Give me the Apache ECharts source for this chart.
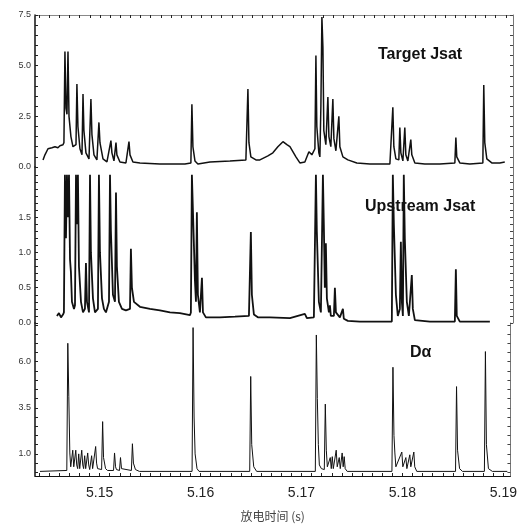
<!DOCTYPE html>
<html>
<head>
<meta charset="utf-8">
<script src="https://cdn.jsdelivr.net/npm/echarts@6/dist/echarts.min.js"></script>
<style>
  html, body { margin: 0; background: #fff; }
  #main { width: 520px; height: 524px; }
</style>
</head>
<body>
<div id="main"></div>
<script>
// time window (s) and tick labels
var tMin = 5.1436, tMax = 5.1907;
var timeLabels = [5.15, 5.16, 5.17, 5.18, 5.19];
var targetLabels = [0, 2.5, 5.0, 7.5];
var upstreamLabels = [0, 0.5, 1.0, 1.5];
var dalphaLabels = [1.0, 3.5, 6.0];

// Target Jsat  [t, value]
var targetJsat = [
  [5.14439,0.35],[5.14458,0.6],[5.14488,0.9],[5.14527,0.95],[5.14557,1.0],[5.14586,0.95],[5.14606,1.05],[5.14636,1.1],[5.14645,1.2],
  [5.14655,5.7],[5.14665,2.9],[5.14675,2.6],[5.14685,5.7],[5.14695,2.5],[5.14714,1.5],[5.14734,1.0],[5.14764,1.1],
  [5.14773,4.1],[5.14783,2.0],[5.14803,0.9],[5.14823,0.6],[5.14833,3.6],[5.14842,1.8],[5.14862,0.7],[5.14892,0.4],
  [5.14911,3.35],[5.14921,1.6],[5.14941,0.6],[5.14970,0.35],[5.14990,2.2],[5.15000,1.2],[5.15030,0.4],[5.15069,0.25],
  [5.15108,1.3],[5.15118,0.7],[5.15138,0.3],[5.15158,1.2],[5.15167,0.6],[5.15197,0.25],[5.15256,0.2],[5.15286,1.25],[5.15296,0.6],[5.15325,0.25],
  [5.15394,0.2],[5.15591,0.15],[5.15837,0.15],[5.15896,0.2],[5.15906,3.1],[5.15916,1.0],[5.15936,0.3],[5.15965,0.15],
  [5.16084,0.25],[5.16281,0.3],[5.16438,0.35],[5.16458,3.85],[5.16468,1.2],[5.16487,0.5],[5.16537,0.35],[5.16576,0.35],
  [5.16655,0.55],[5.16704,0.7],[5.16753,1.0],[5.16803,1.25],[5.16842,1.1],[5.16872,1.0],[5.16891,0.95],[5.16931,0.5],[5.16970,0.2],
  [5.17019,0.25],[5.17059,0.75],[5.17088,0.6],[5.17118,0.9],[5.17128,5.5],[5.17137,2.0],[5.17157,0.7],[5.17167,0.5],
  [5.17177,3.0],[5.17187,7.4],[5.17197,5.9],[5.17206,1.8],[5.17226,1.1],[5.17246,3.45],[5.17256,1.5],[5.17275,1.0],
  [5.17295,3.35],[5.17305,1.4],[5.17325,0.8],[5.17354,2.5],[5.17364,1.0],[5.17394,0.5],[5.17443,0.35],[5.17531,0.2],
  [5.17660,0.15],[5.17857,0.15],[5.17876,0.2],[5.17886,2.95],[5.17896,1.0],[5.17916,0.4],[5.17945,0.35],
  [5.17955,1.95],[5.17965,0.7],[5.17985,0.3],[5.18004,1.95],[5.18014,0.6],[5.18034,0.3],[5.18063,1.35],[5.18073,0.6],[5.18103,0.2],
  [5.18201,0.15],[5.18349,0.15],[5.18497,0.2],[5.18507,1.45],[5.18516,0.5],[5.18546,0.2],[5.18645,0.15],
  [5.18773,0.2],[5.18782,4.05],[5.18792,1.2],[5.18812,0.4],[5.18861,0.2],[5.18940,0.2],[5.18989,0.25]
];

// Upstream Jsat  [t, value]
var upstreamJsat = [
  [5.14576,0.1],[5.14596,0.14],[5.14616,0.08],[5.14636,0.12],[5.14645,0.15],
  [5.14655,2.1],[5.14665,1.2],[5.14675,2.1],[5.14685,1.5],[5.14695,2.1],[5.14705,0.9],[5.14714,0.72],[5.14724,0.3],[5.14744,0.2],[5.14754,0.25],
  [5.14764,2.1],[5.14773,1.4],[5.14783,2.1],[5.14793,0.8],[5.14813,0.3],[5.14833,0.15],[5.14852,0.2],[5.14862,0.85],[5.14872,0.3],[5.14892,0.15],
  [5.14902,2.1],[5.14911,1.0],[5.14931,0.35],[5.14951,0.15],[5.14980,0.2],[5.14990,2.1],[5.15000,1.0],[5.15020,0.35],[5.15039,0.2],[5.15059,0.15],
  [5.15089,0.3],[5.15099,2.1],[5.15108,1.3],[5.15128,0.4],[5.15148,0.3],[5.15158,1.85],[5.15167,0.8],[5.15187,0.3],[5.15217,0.2],[5.15256,0.18],
  [5.15296,0.2],[5.15305,1.05],[5.15315,0.5],[5.15335,0.3],[5.15394,0.23],[5.15493,0.2],[5.15591,0.18],[5.15690,0.15],[5.15788,0.14],[5.15887,0.11],
  [5.15896,0.15],[5.15906,2.1],[5.15916,1.6],[5.15936,0.6],[5.15946,0.3],[5.15955,1.57],[5.15965,0.4],[5.15985,0.15],[5.16005,0.64],[5.16015,0.15],
  [5.16044,0.08],[5.16182,0.08],[5.16330,0.09],[5.16468,0.1],[5.16487,1.29],[5.16497,0.4],[5.16517,0.12],[5.16556,0.08],[5.16675,0.08],[5.16872,0.07],
  [5.17019,0.13],[5.17039,0.07],[5.17108,0.08],[5.17128,2.1],[5.17137,1.3],[5.17157,0.3],[5.17177,0.15],[5.17197,2.1],[5.17206,1.4],[5.17216,0.5],
  [5.17226,1.13],[5.17236,0.35],[5.17256,0.15],[5.17266,0.25],[5.17275,0.1],[5.17305,0.1],[5.17315,0.5],[5.17325,0.15],[5.17364,0.08],[5.17394,0.2],
  [5.17403,0.06],[5.17443,0.03],[5.17561,0.02],[5.17876,0.02],[5.17886,2.1],[5.17896,1.4],[5.17916,0.4],[5.17935,0.1],[5.17955,0.2],[5.17965,1.15],
  [5.17975,0.3],[5.17985,0.1],[5.17994,2.1],[5.18004,1.2],[5.18024,0.3],[5.18044,0.1],[5.18073,0.68],[5.18083,0.2],[5.18103,0.04],[5.18251,0.02],
  [5.18497,0.02],[5.18507,0.76],[5.18516,0.1],[5.18546,0.02],[5.18842,0.02]
];

// D-alpha  [t, value]
var dAlpha = [
  [5.14409,0.05],[5.14675,0.1],[5.14685,7.0],[5.14695,4.1],[5.14705,1.05],[5.14714,0.3],[5.14724,0.2],[5.14734,1.2],[5.14744,0.3],[5.14754,0.2],
  [5.14764,1.2],[5.14773,0.4],[5.14783,0.2],[5.14793,1.0],[5.14803,0.2],[5.14823,1.2],[5.14833,0.4],[5.14842,0.2],[5.14852,0.9],[5.14862,0.2],
  [5.14882,1.05],[5.14892,0.4],[5.14902,0.15],[5.14921,0.9],[5.14931,0.2],[5.14961,1.4],[5.14970,0.5],[5.14980,0.2],[5.15020,0.15],[5.15030,2.75],[5.15039,0.8],
  [5.15059,0.2],[5.15079,0.1],[5.15138,0.1],[5.15148,1.05],[5.15158,0.3],[5.15167,0.15],[5.15197,0.1],[5.15207,0.8],[5.15217,0.2],[5.15236,0.1],
  [5.15315,0.1],[5.15325,1.55],[5.15335,0.5],
  [5.15355,0.15],[5.15394,0.05],[5.15916,0.05],[5.15926,7.85],[5.15936,3.0],[5.15946,1.0],[5.15965,0.2],[5.15985,0.05],
  [5.16487,0.05],[5.16497,5.2],[5.16507,1.5],[5.16527,0.3],[5.16556,0.05],
  [5.17137,0.05],[5.17147,7.45],[5.17157,4.0],[5.17167,1.5],[5.17177,0.4],[5.17197,0.2],[5.17226,0.15],[5.17236,3.7],[5.17246,1.2],[5.17256,0.3],
  [5.17266,0.2],[5.17285,0.8],[5.17295,0.2],[5.17305,0.85],[5.17315,0.2],[5.17325,0.3],[5.17344,1.2],[5.17354,0.3],[5.17364,0.2],[5.17374,0.8],
  [5.17384,0.2],[5.17403,1.05],[5.17413,0.3],[5.17423,0.85],[5.17433,0.2],[5.17453,0.05],
  [5.17896,0.05],[5.17906,5.7],[5.17916,2.0],[5.17925,1.05],[5.17935,0.3],[5.17945,0.2],[5.17994,1.1],[5.18004,0.3],[5.18014,0.2],[5.18034,0.8],
  [5.18044,0.2],[5.18054,0.2],[5.18073,0.95],[5.18083,0.3],[5.18093,0.2],[5.18113,1.1],[5.18122,0.3],[5.18142,0.05],
  [5.18526,0.05],[5.18536,4.65],[5.18546,1.2],[5.18566,0.2],[5.18595,0.05],
  [5.18812,0.05],[5.18822,6.55],[5.18832,1.5],[5.18852,0.2],[5.18891,0.05],[5.19039,0.05]
];

function steps(a, b, s) {
  var out = [];
  var n = Math.round((b - a) / s);
  for (var i = 0; i <= n; i++) out.push(+(a + i * s).toFixed(4));
  return out;
}

var timeTicks = steps(5.144, 5.190, 0.001);
var grids = [
  {left: 35, right: 7, top: 15, height: 152},
  {left: 35, right: 7, top: 167, height: 156},
  {left: 35, right: 7, top: 323, height: 153}
];
var yRanges = [
  {min: 0, max: 7.5, labels: targetLabels, ticks: steps(0, 7.5, 0.5)},
  {min: 0, max: 2.21, labels: upstreamLabels, ticks: steps(0, 2.2, 0.1)},
  {min: -0.2, max: 8.1, labels: dalphaLabels, ticks: steps(0, 8.0, 0.5)}
];

var xAxes = [0, 1, 2].map(function (i) {
  return {
    type: 'value', gridIndex: i, min: tMin, max: tMax,
    position: i === 0 ? 'top' : 'bottom',
    show: i !== 1,
    splitLine: {show: false},
    axisLine: {show: true, onZero: false, lineStyle: {color: i === 0 ? '#888' : '#111', width: 1}},
    axisTick: {show: true, inside: true, length: 3, customValues: timeTicks, lineStyle: {color: '#222'}},
    axisLabel: {
      show: i === 2, customValues: timeLabels, margin: 10,
      fontSize: 14, color: '#222', fontFamily: 'Liberation Sans',
      formatter: function (v) { return v.toFixed(2); }
    },
    name: i === 2 ? '放电时间 (s)' : '',
    nameLocation: 'middle', nameGap: 34,
    nameTextStyle: {fontSize: 12, color: '#444', fontFamily: 'Noto Sans CJK SC'}
  };
});

var yAxes = [];
[0, 1, 2].forEach(function (i) {
  var r = yRanges[i];
  yAxes.push({
    type: 'value', gridIndex: i, min: r.min, max: r.max, position: 'left',
    splitLine: {show: false},
    axisLine: {show: true, onZero: false, lineStyle: {color: '#111', width: 1.5}},
    axisTick: {show: true, inside: true, length: 3, customValues: r.ticks, lineStyle: {color: '#222'}},
    axisLabel: {
      customValues: r.labels, margin: 4, fontSize: 9, color: '#333', fontFamily: 'Liberation Sans',
      formatter: function (v) { return v.toFixed(1); }
    }
  });
});
[0, 1, 2].forEach(function (i) {
  var r = yRanges[i];
  yAxes.push({
    type: 'value', gridIndex: i, min: r.min, max: r.max, position: 'right',
    splitLine: {show: false},
    axisLine: {show: true, onZero: false, lineStyle: {color: '#777', width: 1}},
    axisTick: {show: true, inside: true, length: 3, customValues: r.ticks, lineStyle: {color: '#444'}},
    axisLabel: {show: false}
  });
});

function trace(data, idx, width) {
  return {
    type: 'line', data: data, xAxisIndex: idx, yAxisIndex: idx,
    showSymbol: false, symbol: 'none', smooth: false, clip: true,
    lineStyle: {color: '#111', width: width}
  };
}

var chart = echarts.init(document.getElementById('main'));
chart.setOption({
  animation: false,
  backgroundColor: '#fff',
  grid: grids,
  xAxis: xAxes,
  yAxis: yAxes,
  series: [
    trace(targetJsat, 0, 1.5),
    trace(upstreamJsat, 1, 1.8),
    trace(dAlpha, 2, 1)
  ],
  graphic: [
    {type: 'text', left: 378, top: 47, style: {text: 'Target Jsat', font: 'bold 16px "Liberation Sans"', fill: '#111'}},
    {type: 'text', left: 365, top: 199, style: {text: 'Upstream Jsat', font: 'bold 16px "Liberation Sans"', fill: '#111'}},
    {type: 'text', left: 410, top: 345, style: {text: 'Dα', font: 'bold 16px "Liberation Sans"', fill: '#111'}}
  ]
});
</script>
</body>
</html>
